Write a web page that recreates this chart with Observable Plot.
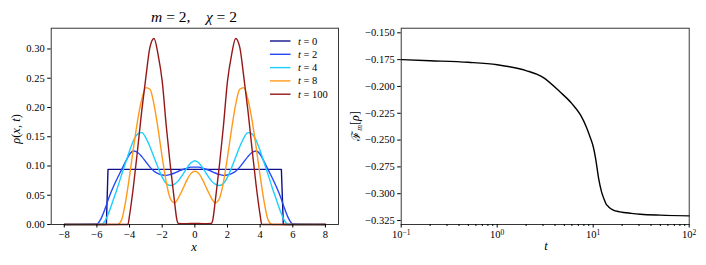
<!DOCTYPE html>
<html><head><meta charset="utf-8">
<script src="https://cdn.jsdelivr.net/npm/d3@7"></script>
<script src="https://cdn.jsdelivr.net/npm/@observablehq/plot@0.6"></script>
<style>
body{margin:0;background:#fff;}
#wrap{position:relative;width:706px;height:265px;overflow:hidden;}
#left,#right{position:absolute;top:0;}
#left{left:0;} #right{left:353px;}
svg, svg text, svg tspan{font-family:"Liberation Serif","DejaVu Serif",serif !important;}
</style></head><body><div id="wrap"><div id="left"></div><div id="right"></div></div>
<script>
// ---------- data: left panel rho(x,t) ----------
const seriesLabels = ["0", "2", "4", "8", "100"];
const seriesColors = ["#10108a", "#2448f8", "#1ccfff", "#ff9a1a", "#951818"];

const x0 = [-8, -5.42, -5.32, 5.3, 5.42, 8];
const rho0 = [0, 0, 0.0943, 0.0943, 0, 0];

const xGrid = [-8, -6, -5.75, -5.5, -5.25, -5, -4.75, -4.5, -4.25, -4, -3.75, -3.5, -3.25, -3, -2.75, -2.5, -2.25, -2, -1.75, -1.5, -1.25, -1, -0.75, -0.5, -0.25, 0, 0.25, 0.5, 0.75, 1, 1.25, 1.5, 1.75, 2, 2.25, 2.5, 2.75, 3, 3.25, 3.5, 3.75, 4, 4.25, 4.5, 4.75, 5, 5.25, 5.5, 5.75, 6, 8];
const rho2 = [0, 0.001, 0.010, 0.027, 0.047, 0.064, 0.079, 0.093, 0.107, 0.120, 0.1255, 0.123, 0.116, 0.107, 0.098, 0.091, 0.087, 0.0845, 0.084, 0.0855, 0.088, 0.091, 0.094, 0.096, 0.098,
  0.098,
  0.098, 0.096, 0.094, 0.091, 0.088, 0.0855, 0.084, 0.0845, 0.087, 0.091, 0.098, 0.107, 0.116, 0.123, 0.1255, 0.120, 0.107, 0.093, 0.079, 0.064, 0.047, 0.027, 0.010, 0.001, 0];
const rho4 = [0, 0, 0, 0.006, 0.022, 0.042, 0.062, 0.084, 0.105, 0.126, 0.144, 0.155, 0.157, 0.148, 0.133, 0.115, 0.097, 0.081, 0.070, 0.0666, 0.069, 0.075, 0.085, 0.096, 0.105,
  0.109,
  0.105, 0.096, 0.085, 0.075, 0.069, 0.0666, 0.070, 0.081, 0.097, 0.115, 0.133, 0.148, 0.157, 0.155, 0.144, 0.126, 0.105, 0.084, 0.062, 0.042, 0.022, 0.006, 0, 0, 0];
const rho8 = [0, 0, 0, 0, 0, 0, 0, 0.007, 0.038, 0.083, 0.133, 0.179, 0.214, 0.234, 0.231, 0.205, 0.163, 0.115, 0.072, 0.044, 0.037, 0.046, 0.060, 0.075, 0.087,
  0.091,
  0.087, 0.075, 0.060, 0.046, 0.037, 0.044, 0.072, 0.115, 0.163, 0.205, 0.231, 0.234, 0.214, 0.179, 0.133, 0.083, 0.038, 0.007, 0, 0, 0, 0, 0, 0, 0];

const x100 = [-8, -4.1, -4, -3.75, -3.5, -3.25, -3, -2.75, -2.5, -2.25, -2, -1.75, -1.5, -1.25, -1.1, -1.02, -0.5, 0, 0.5, 1.02, 1.1, 1.25, 1.5, 1.75, 2, 2.25, 2.5, 2.75, 3, 3.25, 3.5, 3.75, 4, 4.1, 8];
const rho100 = [0, 0, 0.016, 0.068, 0.13, 0.195, 0.252, 0.303, 0.318, 0.29, 0.245, 0.168, 0.10, 0.04, 0.008, 0.002, 0.0015, 0.002, 0.0015, 0.002, 0.008, 0.04, 0.10, 0.168, 0.245, 0.29, 0.318, 0.303, 0.252, 0.195, 0.13, 0.068, 0.016, 0, 0];

const xTicksLeft = [-8, -6, -4, -2, 0, 2, 4, 6, 8];
const yTicksLeft = [0, 0.05, 0.10, 0.15, 0.20, 0.25, 0.30];

// ---------- data: right panel F_m[rho](t) ----------
const tVals = [0.1, 0.2, 0.5, 1, 2, 3, 4.5, 6, 7.4, 8.5, 9.4, 10, 10.6, 11.4, 12.2, 12.9, 13.6, 14.5, 16, 19, 25, 31, 50, 100];
const fVals = [-0.1750, -0.1760, -0.1775, -0.1798, -0.1852, -0.1915, -0.2050, -0.2160, -0.2268, -0.2380, -0.2486, -0.2560, -0.2672, -0.2859, -0.2980, -0.3045, -0.3095, -0.3123, -0.3150, -0.3169, -0.3183, -0.3191, -0.3200, -0.3207];
const xTicksRight = [0.1, 1, 10, 100];
const xTickExps = ["\u22121", "0", "1", "2"];
const yTicksRight = [-0.150, -0.175, -0.200, -0.225, -0.250, -0.275, -0.300, -0.325];

// ---------- helpers ----------
const NS = "http://www.w3.org/2000/svg";
const FONT = "Liberation Serif";
function addText(svg, x, y, parts, opt = {}) {
  const t = document.createElementNS(NS, "text");
  t.setAttribute("x", x); t.setAttribute("y", y);
  t.setAttribute("font-size", opt.size || 12);
  t.setAttribute("fill", "black");
  t.setAttribute("text-anchor", opt.anchor || "middle");
  if (opt.rotate) t.setAttribute("transform", `rotate(${opt.rotate} ${x} ${y})`);
  for (const p of parts) {
    const s = document.createElementNS(NS, "tspan");
    if (p.i) s.setAttribute("font-style", "italic");
    if (p.size) s.setAttribute("font-size", p.size);
    if (p.dy) s.setAttribute("dy", p.dy);
    s.setAttribute("style", "white-space:pre");
    s.textContent = p.t;
    t.appendChild(s);
  }
  svg.appendChild(t);
  return t;
}

// ---------- left plot ----------
const lineSeries = [
  {x: x0, y: rho0, curve: "linear"},
  {x: xGrid, y: rho2, curve: "monotone-x"},
  {x: xGrid, y: rho4, curve: "monotone-x"},
  {x: xGrid, y: rho8, curve: "monotone-x"},
  {x: x100, y: rho100, curve: "monotone-x"}
];
const leftMarks = lineSeries.map((s, i) =>
  Plot.line(s.x.map((xv, j) => ({x: xv, y: s.y[j]})), {x: "x", y: "y", stroke: seriesColors[i], strokeWidth: 1.4, curve: s.curve})
);
const fmtInt = d3.format("d");
const left = Plot.plot({
  width: 353, height: 265,
  marginLeft: 50.7, marginRight: 15, marginTop: 27.7, marginBottom: 41,
  style: {fontFamily: FONT, fontSize: "10px", background: "white", color: "black", overflow: "visible"},
  x: {domain: [-8.8, 8.8]},
  y: {domain: [0, 0.3355]},
  marks: [
    ...leftMarks,
    Plot.frame({stroke: "#222", strokeWidth: 0.9}),
    Plot.axisX({ticks: xTicksLeft, tickFormat: fmtInt, tickSize: 3.5, tickPadding: 3, label: null, fontSize: 10.5}),
    Plot.axisY({ticks: yTicksLeft, tickFormat: d3.format(".2f"), tickSize: 3.5, tickPadding: 3, label: null, fontSize: 10.5})
  ]
});
document.getElementById("left").appendChild(left);
// title, axis labels, legend
addText(left, 194, 22, [{t: "m", i: true}, {t: " = 2,    "}, {t: "\u03c7", i: true}, {t: " = 2"}], {size: 15.5});
addText(left, 194, 251, [{t: "x", i: true}], {size: 12.5});
addText(left, 20, 129, [{t: "\u03c1", i: true}, {t: "("}, {t: "x", i: true}, {t: ", "}, {t: "t", i: true}, {t: ")"}], {size: 12.5, rotate: -90});
seriesLabels.forEach((lab, i) => {
  const y = 41 + i * 13.3;
  const ln = document.createElementNS(NS, "line");
  ln.setAttribute("x1", 270); ln.setAttribute("x2", 290.5);
  ln.setAttribute("y1", y); ln.setAttribute("y2", y);
  ln.setAttribute("stroke", seriesColors[i]); ln.setAttribute("stroke-width", 1.4);
  left.appendChild(ln);
  addText(left, 298, y + 3.5, [{t: "t", i: true}, {t: " = " + lab}], {size: 10.5, anchor: "start"});
});

// ---------- right plot ----------
const right = Plot.plot({
  width: 353, height: 265,
  marginLeft: 47.7, marginRight: 17.3, marginTop: 27.7, marginBottom: 41,
  style: {fontFamily: FONT, fontSize: "10px", background: "white", color: "black", overflow: "visible"},
  x: {type: "log", domain: [0.1, 100]},
  y: {domain: [-0.3287, -0.1457]},
  marks: [
    Plot.line(tVals.map((t, j) => ({t, f: fVals[j]})), {x: "t", y: "f", stroke: "black", strokeWidth: 1.4, curve: "monotone-x"}),
    Plot.frame({stroke: "#222", strokeWidth: 0.9}),
    Plot.axisX({ticks: d3.scaleLog().domain([0.1, 100]).ticks().filter(v => !xTicksRight.includes(v)), tickFormat: () => "", tickSize: 2, label: null}),
    Plot.axisX({ticks: xTicksRight, tickFormat: () => "10", tickSize: 3.5, tickPadding: 3, label: null, fontSize: 10.5}),
    Plot.axisY({ticks: yTicksRight, tickFormat: d3.format(".3f"), tickSize: 3.5, tickPadding: 3, label: null, fontSize: 10.5})
  ]
});
document.getElementById("right").appendChild(right);
// exponents on log ticks
const groups = right.querySelectorAll('g[aria-label="x-axis tick label"]');
const g = groups[groups.length - 1];
if (g) {
  g.querySelectorAll("text").forEach((t, i) => {
    const s = document.createElementNS(NS, "tspan");
    s.setAttribute("dy", "-0.45em");
    s.setAttribute("font-size", "7.5px");
    s.textContent = xTickExps[i];
    t.appendChild(s);
  });
}
addText(right, 193, 250, [{t: "t", i: true}], {size: 12.5});
addText(right, 7, 126, [{t: "\u2131"}, {t: "m", i: true, size: 8, dy: "0.3em"}, {t: "[", dy: "-0.3em"}, {t: "\u03c1", i: true}, {t: "]"}], {size: 12, rotate: -90});
</script></body></html>
